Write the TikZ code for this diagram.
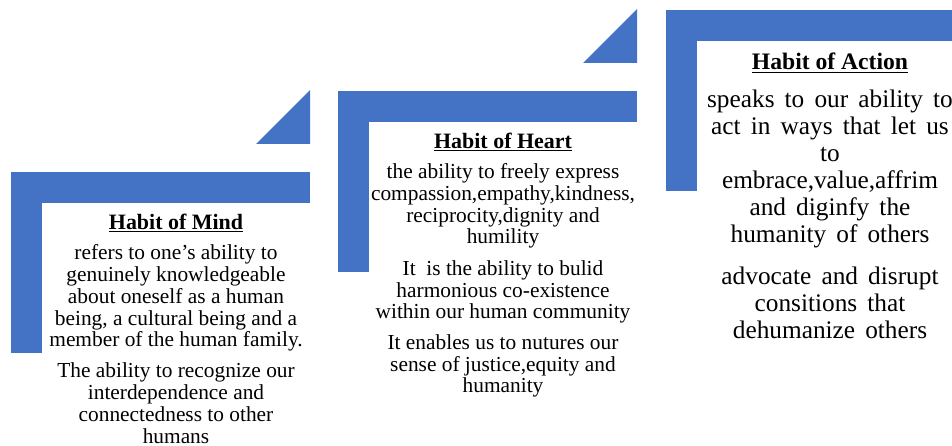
\documentclass[tikz,border=0pt]{standalone}
\usepackage{fontspec}
\setmainfont{Liberation Serif}
\definecolor{azulPaso}{HTML}{4472C4}
\newcommand{\escalonHabito}{%
  \fill[azulPaso] (0,0) rectangle (299,31);            % barra superior
  \fill[azulPaso] (0,0) rectangle (31,181);            % barra izquierda
}
\newcommand{\puntaHabito}{%
  \fill[azulPaso] (245,-28) -- (299,-82) -- (299,-28) -- cycle;   % punta
}
\newcommand{\letraHabito}{\fontsize{15.2}{15.5}\selectfont}
\newcommand{\letraAccion}{\fontsize{18}{19.2}\selectfont\spaceskip=0.4em\relax}
\tikzset{
  tituloHab/.style={inner sep=0pt, font=\bfseries\fontsize{15.6}{18}\selectfont},
  tituloAcc/.style={inner sep=0pt, font=\bfseries\fontsize{16.8}{19}\selectfont},
  textoHab/.style={align=center, inner sep=0pt, font=\letraHabito},
  textoAcc/.style={align=center, inner sep=0pt, font=\letraAccion}
}

\begin{document}
\begin{tikzpicture}[x=0.025cm,y=-0.025cm]
      \useasboundingbox (0,0) rectangle (952,446);
      \clip (0,0) rectangle (952,446);
      \begin{scope}[shift={(11,172)}]   \escalonHabito\puntaHabito \end{scope}
      \begin{scope}[shift={(338,91)}]   \escalonHabito\puntaHabito \end{scope}
      \begin{scope}[shift={(666,10)}]   \escalonHabito             \end{scope}
      % habito de mente
      \node[tituloHab] (mente) at (176,223) {\underline{Habit of Mind}};
      \node[textoHab] (mente1) at (176,298) {refers to one's ability to\\genuinely knowledgeable\\about oneself as a human\\being, a cultural being and a\\member of the human family.};
      \node[textoHab] (mente2) at (176,403) {The ability to recognize our\\interdependence and\\connectedness to other\\humans};
      % habito de corazon
      \node[tituloHab] (corazon) at (503,142) {\underline{Habit of Heart}};
      \node[textoHab] (corazon1) at (503,206) {the ability to freely express\\compassion,empathy,kindness,\\reciprocity,dignity and\\humility};
      \node[textoHab] (corazon2) at (503,292) {It\ \ is the ability to bulid\\harmonious co-existence\\within our human community};
      \node[textoHab] (corazon3) at (503,366) {It enables us to nutures our\\sense of justice,equity and\\humanity};
      % habito de accion
      \node[tituloAcc] (accion) at (830,63) {\underline{Habit of Action}};
      \node[textoAcc] (accion1) at (830,169) {speaks to our ability to\\act in ways that let us\\to\\embrace,value,affrim\\and diginfy the\\humanity of others};
      \node[textoAcc] (accion2) at (830,303) {advocate and disrupt\\consitions that\\dehumanize others};
\end{tikzpicture}
\end{document}
